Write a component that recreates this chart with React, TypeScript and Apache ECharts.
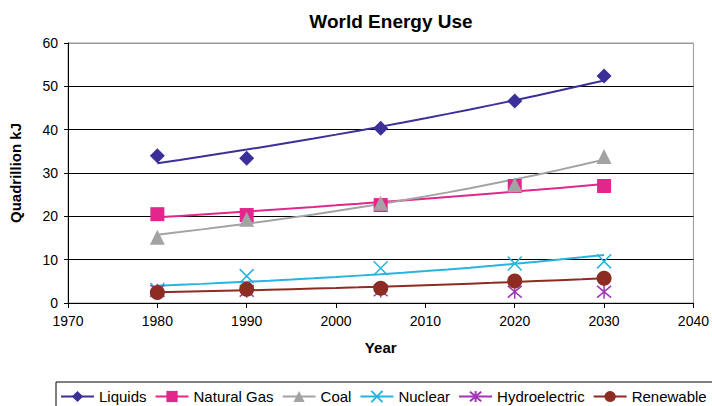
import React, { useEffect, useRef } from "react";
import * as echarts from "echarts";

// ---- Data ----
const years = [1980, 1990, 2005, 2020, 2030];
const liquids = [34.0, 33.4, 40.3, 46.6, 52.4];
const naturalGas = [20.5, 20.3, 22.6, 27.0, 27.0];
const coal = [15.2, 19.3, 23.0, 27.3, 33.8];
const nuclear = [3.0, 6.2, 8.0, 9.1, 9.6];
const hydroelectric = [2.8, 2.8, 2.9, 2.6, 2.6];
const renewable = [2.4, 3.2, 3.4, 5.1, 5.7];

const seriesNames = ["Liquids", "Natural Gas", "Coal", "Nuclear", "Hydroelectric", "Renewable"];
const seriesValues = [liquids, naturalGas, coal, nuclear, hydroelectric, renewable];
const hasTrend = [true, true, true, true, false, true];

const colors = ["#3B2F98", "#E3268C", "#A3A3A3", "#27B4DE", "#A035B5", "#8D2C22"];
const X_PATH = "path://M0,0L10,10M10,0L0,10";
const STAR_PATH = "path://M0,0L10,10M10,0L0,10M5,-1L5,11";
const symbols = ["diamond", "rect", "triangle", X_PATH, STAR_PATH, "circle"];
const symbolSizes = [15, 14, 15, 14, 14, 15];
const strokeOnly = [false, false, false, true, true, false];

// exponential trendline (least squares on ln y), as the spreadsheet draws it
function expTrend(xs: number[], ys: number[]) {
  const n = xs.length;
  const mx = xs.reduce((a, b) => a + b, 0) / n;
  const ly = ys.map((v) => Math.log(v));
  const my = ly.reduce((a, b) => a + b, 0) / n;
  let sxy = 0;
  let sxx = 0;
  for (let i = 0; i < n; i++) {
    sxy += (xs[i] - mx) * (ly[i] - my);
    sxx += (xs[i] - mx) * (xs[i] - mx);
  }
  const b = sxy / sxx;
  const pts: number[][] = [];
  const steps = 20;
  const x0 = xs[0];
  const x1 = xs[n - 1];
  for (let k = 0; k <= steps; k++) {
    const x = x0 + ((x1 - x0) * k) / steps;
    pts.push([x, Math.exp(my + b * (x - mx))]);
  }
  return pts;
}

const FONT = "'Liberation Sans', Arial, Helvetica, sans-serif";

export default function App() {
  const ref = useRef<HTMLDivElement>(null);
  useEffect(() => {
    if (!ref.current) return;
    const chart = echarts.init(ref.current, undefined, { renderer: "svg" });

    const styleFor = (i: number) =>
      strokeOnly[i]
        ? { color: colors[i], borderColor: colors[i], borderWidth: 1.5, opacity: 1 }
        : { color: colors[i], opacity: 1 };

    const series: any[] = [];
    // trend lines first (so legend picks up their line + symbol icon)
    seriesNames.forEach((name, i) => {
      series.push({
        type: "line",
        name,
        data: hasTrend[i] ? expTrend(years, seriesValues[i]) : [],
        showSymbol: false,
        symbol: symbols[i],
        symbolSize: symbolSizes[i],
        smooth: false,
        z: 2,
        silent: true,
        lineStyle: { color: colors[i], width: 2 },
        itemStyle: styleFor(i),
      });
    });
    seriesNames.forEach((name, i) => {
      series.push({
        type: "scatter",
        name,
        data: years.map((y, j) => [y, seriesValues[i][j]]),
        symbol: symbols[i],
        symbolSize: symbolSizes[i],
        z: 3,
        itemStyle: styleFor(i),
      });
    });

    chart.setOption({
      animation: false,
      textStyle: { fontFamily: FONT },
      title: {
        text: "World Energy Use",
        left: 386,
        top: 7,
        textAlign: "center",
        textStyle: { fontFamily: FONT, fontSize: 19, fontWeight: "bold", color: "#000" },
      },
      legend: {
        data: seriesNames,
        left: 56,
        top: 382,
        width: 700,
        orient: "horizontal",
        padding: [7, 8, 12, 4],
        itemWidth: 33,
        itemHeight: 14,
        itemGap: 8,
        borderColor: "#000",
        borderWidth: 1,
        textStyle: { fontFamily: FONT, fontSize: 15, color: "#000" },
      },
      grid: {
        left: 68,
        right: 16,
        top: 43,
        bottom: 103,
        show: true,
        borderColor: "#999",
        borderWidth: 1,
        backgroundColor: "transparent",
      },
      xAxis: {
        type: "value",
        min: 1970,
        max: 2040,
        interval: 10,
        name: "Year",
        nameLocation: "middle",
        nameGap: 37,
        nameTextStyle: { fontFamily: FONT, fontSize: 15, fontWeight: "bold", color: "#000" },
        axisLine: { show: true, lineStyle: { color: "#000", width: 1 } },
        axisTick: { show: true, inside: false, length: 5, lineStyle: { color: "#000" } },
        axisLabel: {
          fontFamily: FONT,
          fontSize: 14,
          color: "#000",
          margin: 11,
          formatter: (v: number) => String(v),
        },
        splitLine: { show: false },
      },
      yAxis: {
        type: "value",
        min: 0,
        max: 60,
        interval: 10,
        name: "Quadrillion kJ",
        nameLocation: "middle",
        nameRotate: 90,
        nameGap: 45,
        nameTextStyle: { fontFamily: FONT, fontSize: 15, fontWeight: "bold", color: "#000" },
        axisLine: { show: true, lineStyle: { color: "#000", width: 1 } },
        axisTick: { show: true, inside: false, length: 4, lineStyle: { color: "#000" } },
        axisLabel: { fontFamily: FONT, fontSize: 14, color: "#000", margin: 10 },
        splitLine: {
          show: true,
          lineStyle: { color: ["#000", "#000", "#000", "#000", "#000", "#000", "#999"], width: 1 },
        },
      },
      series,
    });
    return () => chart.dispose();
  }, []);
  return (
    <div
      ref={ref}
      style={{ position: "absolute", left: 0, top: 0, width: 712, height: 406, background: "#fff" }}
    />
  );
}
